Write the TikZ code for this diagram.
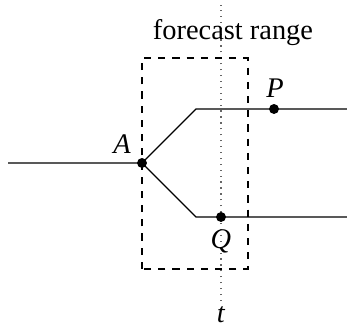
\documentclass[tikz,border=0pt]{standalone}
\usepackage{fontspec}
\setmainfont{Liberation Serif}
\begin{document}
\begin{tikzpicture}[x=0.4225pt, y=0.4225pt, font=\fontsize{12}{14}\selectfont,
    dot/.style={circle, fill, inner sep=0pt, minimum size=4.2pt},
    lbl/.style={inner sep=1pt}]
    \useasboundingbox (0,0) rectangle (347,327);
    % time slice and forecast window
    \coordinate (ttop) at (221,322);
    \node[lbl] (t) at (221,12) {\textit{t}};
    \draw[dotted, line width=0.5pt, black!60] (t.north) ++(0,3) -- (ttop);
    \draw[dashed, line width=0.5pt] (142,58) rectangle (248,269);
    \node (range) at (233,294) {forecast range};
    % paths
    \coordinate (start) at (8,164);
    \node[dot] (A) at (142,164) {};
    \coordinate (up) at (196,218);
    \coordinate (down) at (196,110);
    \coordinate (upend) at (347,218);
    \coordinate (downend) at (347,110);
    \node[dot] (P) at (274,218) {};
    \node[dot] (Q) at (221,110) {};
    \draw[line width=0.5pt] (start) -- (A.center) -- (up) -- (upend);
    \draw[line width=0.5pt] (A.center) -- (down) -- (downend);
    \node[lbl] (Alabel) at (122,183) {\textit{A}};
    \node[lbl] (Plabel) at (275,239) {\textit{P}};
    \node[lbl] (Qlabel) at (221,86) {\textit{Q}};
\end{tikzpicture}
\end{document}
